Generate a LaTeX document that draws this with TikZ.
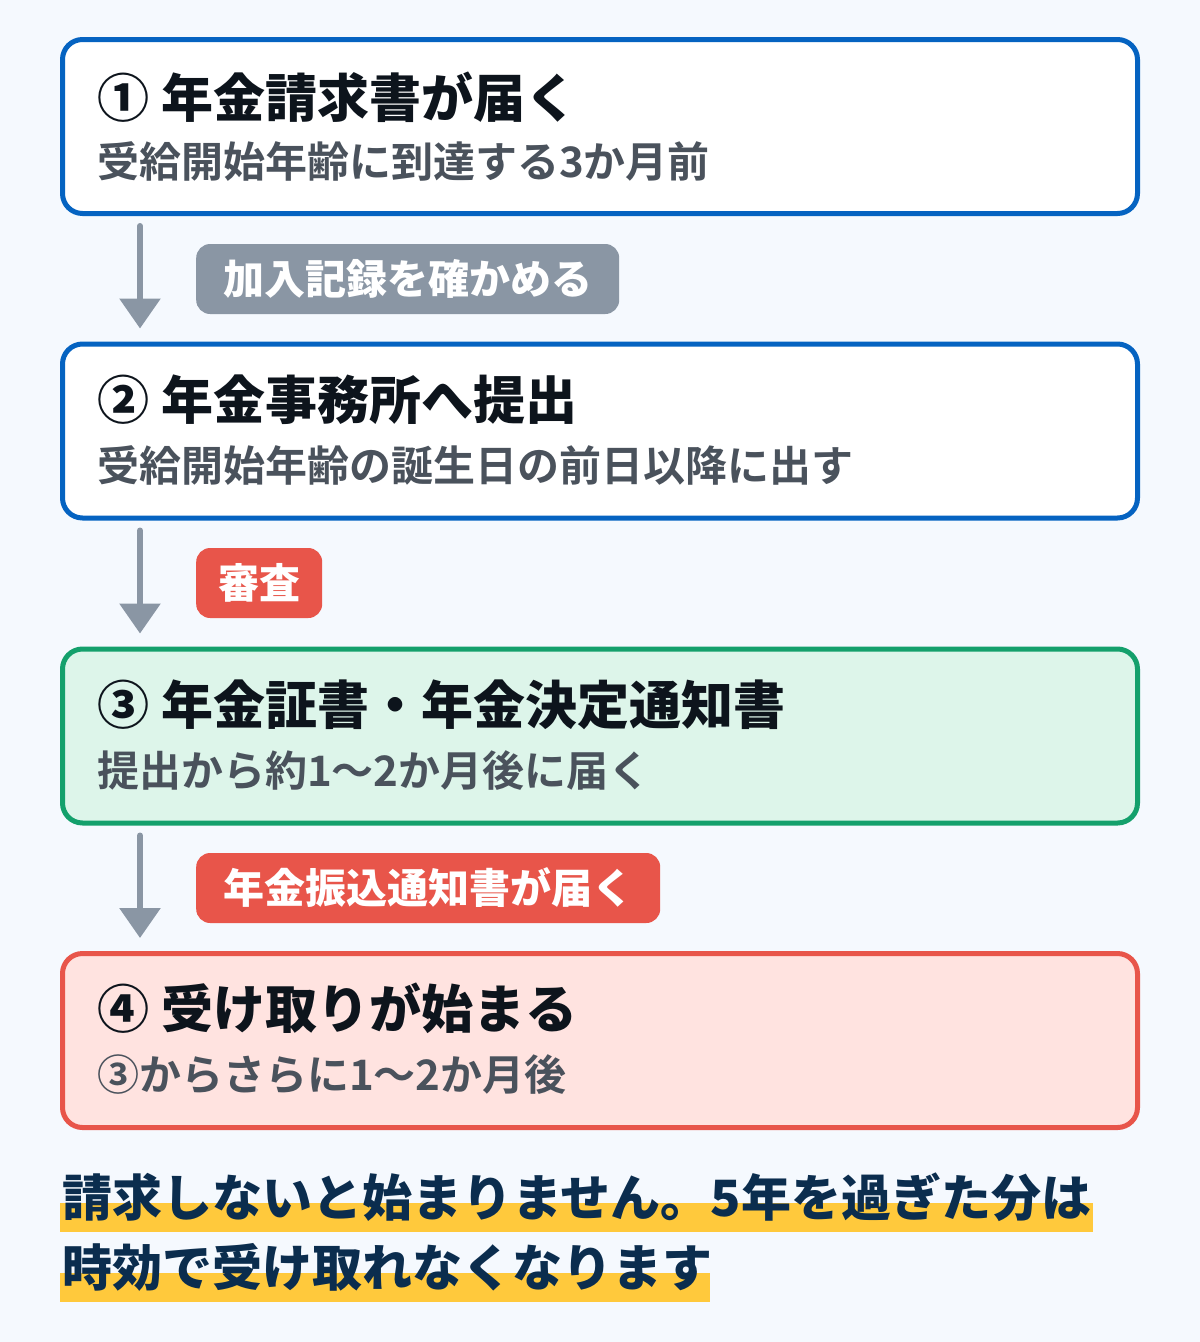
\documentclass[tikz,border=0pt]{standalone}
\usepackage{fontspec}
\usepackage{xcolor}
\usetikzlibrary{arrows.meta,positioning}

\newfontfamily\jp{Noto Sans CJK JP}[UprightFont=* Bold, BoldFont=* Black]

\definecolor{pagebg}{HTML}{F5F9FE}
\definecolor{stepblue}{HTML}{0563C1}
\definecolor{stepgreen}{HTML}{14A06C}
\definecolor{stepgreenfill}{HTML}{DDF5EA}
\definecolor{stepred}{HTML}{E8554A}
\definecolor{stepredfill}{HTML}{FFE3E0}
\definecolor{arrowgray}{HTML}{8A96A4}
\definecolor{titleink}{HTML}{0D141C}
\definecolor{subink}{HTML}{4A525C}
\definecolor{noteink}{HTML}{0B2D4E}
\definecolor{marker}{HTML}{FFC93C}

\tikzset{
    stepbox/.style={draw, line width=5pt, rounded corners=20pt,
        minimum width=1075pt, minimum height=174pt, inner sep=0pt},
    steptitle/.style={anchor=west, inner sep=0pt, text=titleink,
        font=\jp\bfseries\fontsize{52}{52}\selectfont},
    stepsub/.style={anchor=west, inner sep=0pt, text=subink,
        font=\jp\fontsize{42}{42}\selectfont},
    pill/.style={anchor=west, rounded corners=14pt, text=white,
        inner xsep=24pt, inner ysep=0pt, minimum height=70pt,
        font=\jp\bfseries\fontsize{41}{41}\selectfont},
    flowarrow/.style={draw=arrowgray, line width=6pt, line cap=round,
        -{Triangle[width=40pt,length=30pt]}},
    notetext/.style={anchor=west, inner sep=0pt, text=noteink,
        font=\jp\bfseries\fontsize{50}{50}\selectfont},
}

\begin{document}
\begin{tikzpicture}[x=1pt, y=-1pt]
    \fill[pagebg] (0,0) rectangle (1200,1342);
    \useasboundingbox (0,0) rectangle (1200,1342);

    % steps
    \node[stepbox, draw=stepblue, fill=white] (s1) at (600,126.5) {};
    \node[stepbox, draw=stepblue, fill=white] (s2) at (600,431) {};
    \node[stepbox, draw=stepgreen, fill=stepgreenfill] (s3) at (600,736) {};
    \node[stepbox, draw=stepred, fill=stepredfill] (s4) at (600,1040.5) {};

    \node[steptitle] (t1) at (97,97) {① 年金請求書が届く};
    \node[stepsub] (u1) at (97,162) {受給開始年齢に到達する3か月前};
    \node[steptitle] (t2) at (97,400) {② 年金事務所へ提出};
    \node[stepsub] (u2) at (97,466) {受給開始年齢の誕生日の前日以降に出す};
    \node[steptitle] (t3) at (97,705) {③ 年金証書・年金決定通知書};
    \node[stepsub] (u3) at (97,771) {提出から約1〜2か月後に届く};
    \node[steptitle] (t4) at (97,1008) {④ 受け取りが始まる};
    \node[stepsub] (u4) at (97,1075) {③からさらに1〜2か月後};

    % arrows between steps
    \coordinate (ax) at (140,0);
    \draw[flowarrow] ([yshift=-10pt]s1.south -| ax) -- ([yshift=13pt]s2.north -| ax);
    \draw[flowarrow] ([yshift=-10pt]s2.south -| ax) -- ([yshift=13pt]s3.north -| ax);
    \draw[flowarrow] ([yshift=-10pt]s3.south -| ax) -- ([yshift=13pt]s4.north -| ax);

    \node[pill, fill=arrowgray, inner xsep=27pt] (p1) at (196,279) {加入記録を確かめる};
    \node[pill, fill=stepred, inner xsep=22pt] (p2) at (196,583) {審査};
    \node[pill, fill=stepred, inner xsep=27pt] (p3) at (196,888) {年金振込通知書が届く};

    % note
    \fill[marker] (60,1203) rectangle (1093,1232);
    \fill[marker] (60,1273) rectangle (710,1302);
    \node[notetext] (n1) at (62,1197) {請求しないと始まりません。5年を過ぎた分は};
    \node[notetext] (n2) at (62,1267) {時効で受け取れなくなります};
\end{tikzpicture}
\end{document}
